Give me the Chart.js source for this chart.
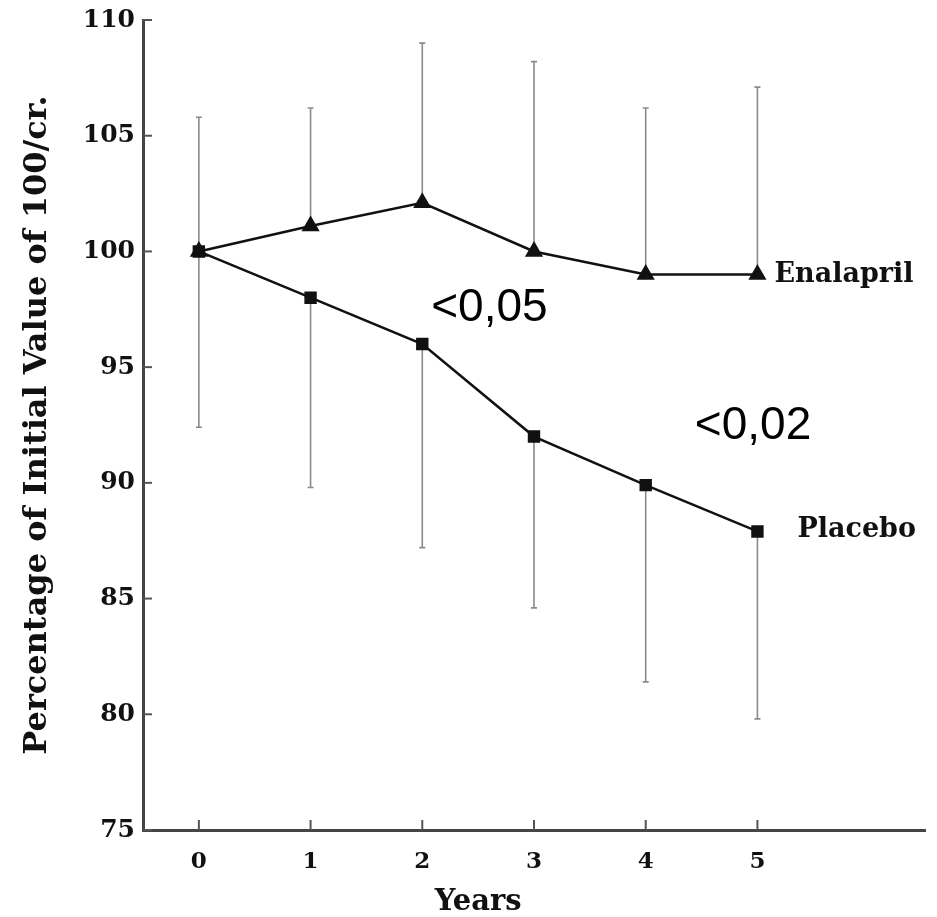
<!DOCTYPE html>
<html>
<head>
<meta charset="utf-8">
<script src="https://cdn.jsdelivr.net/npm/chart.js@4.4.0/dist/chart.umd.min.js"></script>
<style>
    html, body { margin: 0; padding: 0; background: #fff; }
    #wrap { width: 937px; height: 917px; }
</style>
</head>
<body>
<div id="wrap"><canvas id="grafico"></canvas></div>
<script>
// dados
const anos = [0, 1, 2, 3, 4, 5];
const enalapril = [100, 101.1, 102.1, 100.0, 99.0, 99.0];
const enalaprilSup = [105.8, 106.2, 109.0, 108.2, 106.2, 107.1];
const placebo = [100, 98.0, 96.0, 92.0, 89.9, 87.9];
const placeboInf = [92.4, 89.8, 87.2, 84.6, 81.4, 79.8];
const ticksY = [75, 80, 85, 90, 95, 100, 105, 110];
const ticksX = [0, 1, 2, 3, 4, 5];
const nomes = ['Enalapril', 'Placebo'];
const anotacoes = [
    { texto: '<0,05', x: 2.08, y: 97.0 },
    { texto: '<0,02', x: 4.44, y: 91.9 }
];

const serif = '"DejaVu Serif", serif';

document.addEventListener('DOMContentLoaded', function () {
    // Barras de erro (só um lado para cada série)
    const barrasErro = {
        id: 'barrasErro',
        beforeDatasetsDraw(chart) {
            const ctx = chart.ctx;
            const sx = chart.scales.x, sy = chart.scales.y;
            ctx.save();
            ctx.strokeStyle = '#8a8a8a';
            ctx.lineWidth = 1.6;
            const desenha = (medias, limites) => {
                for (let i = 0; i < anos.length; i++) {
                    const px = sx.getPixelForValue(anos[i]);
                    const y0 = sy.getPixelForValue(medias[i]);
                    const y1 = sy.getPixelForValue(limites[i]);
                    ctx.beginPath();
                    ctx.moveTo(px, y0);
                    ctx.lineTo(px, y1);
                    ctx.moveTo(px - 3, y1);
                    ctx.lineTo(px + 3, y1);
                    ctx.stroke();
                }
            };
            desenha(enalapril, enalaprilSup);
            desenha(placebo, placeboInf);
            ctx.restore();
        }
    };

    // Marcas dos eixos voltadas para dentro, rótulos e anotações
    const extras = {
        id: 'extras',
        afterDraw(chart) {
            const ctx = chart.ctx;
            const sx = chart.scales.x, sy = chart.scales.y;
            const area = chart.chartArea;
            ctx.save();
            ctx.strokeStyle = '#555';
            ctx.lineWidth = 2;
            ticksY.forEach(v => {
                const py = sy.getPixelForValue(v);
                ctx.beginPath();
                ctx.moveTo(area.left, py);
                ctx.lineTo(area.left + 9, py);
                ctx.stroke();
            });
            ticksX.forEach(v => {
                const px = sx.getPixelForValue(v);
                ctx.beginPath();
                ctx.moveTo(px, area.bottom);
                ctx.lineTo(px, area.bottom - 10);
                ctx.stroke();
            });

            // nomes das séries ao lado do último ponto
            ctx.fillStyle = '#111';
            ctx.font = 'bold 27px ' + serif;
            ctx.textBaseline = 'middle';
            ctx.textAlign = 'left';
            const ult = anos.length - 1;
            ctx.fillText(nomes[0], sx.getPixelForValue(anos[ult]) + 17, sy.getPixelForValue(enalapril[ult]));
            ctx.fillText(nomes[1], sx.getPixelForValue(anos[ult]) + 40, sy.getPixelForValue(placebo[ult]) - 1);

            // título do eixo x
            ctx.font = 'bold 29px ' + serif;
            ctx.textAlign = 'center';
            ctx.textBaseline = 'alphabetic';
            ctx.fillText('Years', sx.getPixelForValue(2.5), area.bottom + 80);

            // valores de p
            ctx.fillStyle = '#000';
            ctx.font = '46px "Liberation Sans", Arial, sans-serif';
            ctx.textAlign = 'left';
            anotacoes.forEach(a => {
                ctx.fillText(a.texto, sx.getPixelForValue(a.x), sy.getPixelForValue(a.y));
            });
            ctx.restore();
        }
    };

    const ctx = document.getElementById('grafico').getContext('2d');
    new Chart(ctx, {
        type: 'line',
        data: {
            datasets: [{
                label: nomes[0],
                data: anos.map((a, i) => ({ x: a, y: enalapril[i] })),
                borderColor: '#111',
                backgroundColor: '#111',
                borderWidth: 2.5,
                pointStyle: 'triangle',
                pointRadius: 8,
                tension: 0
            }, {
                label: nomes[1],
                data: anos.map((a, i) => ({ x: a, y: placebo[i] })),
                borderColor: '#111',
                backgroundColor: '#111',
                borderWidth: 2.5,
                pointStyle: 'rect',
                pointRadius: 7,
                tension: 0
            }]
        },
        options: {
            responsive: true,
            maintainAspectRatio: false,
            animation: false,
            layout: { padding: { top: 20, right: 12, left: 0, bottom: 0 } },
            plugins: {
                legend: { display: false },
                tooltip: { enabled: false }
            },
            scales: {
                x: {
                    type: 'linear',
                    min: -0.5,
                    max: 6.5,
                    afterBuildTicks: s => { s.ticks = ticksX.map(v => ({ value: v })); },
                    afterFit: s => { s.height = 87; },
                    grid: { display: false },
                    border: { display: true, color: '#444', width: 3 },
                    ticks: {
                        color: '#111',
                        padding: 10,
                        font: { family: serif, weight: 'bold', size: 23 }
                    }
                },
                y: {
                    min: 75,
                    max: 110,
                    afterBuildTicks: s => { s.ticks = ticksY.map(v => ({ value: v })); },
                    afterFit: s => { s.width = 143; },
                    grid: { display: false },
                    border: { display: true, color: '#444', width: 3 },
                    ticks: {
                        color: '#111',
                        padding: 0,
                        font: { family: serif, weight: 'bold', size: 25 }
                    },
                    title: {
                        display: true,
                        text: 'Percentage of Initial Value of 100/cr.',
                        align: 'center',
                        color: '#111',
                        padding: { top: 18, bottom: 0 },
                        font: { family: serif, weight: 'bold', size: 32 }
                    }
                }
            }
        },
        plugins: [barrasErro, extras]
    });
});
</script>
</body>
</html>
